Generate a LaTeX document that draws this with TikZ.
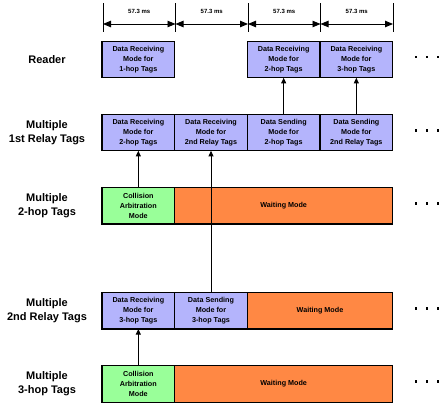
\documentclass[tikz,border=0pt]{standalone}
\usepackage{fontspec}
\setmainfont{Liberation Sans}
\usetikzlibrary{arrows.meta,calc}
\definecolor{lav}{RGB}{180,180,252}
\definecolor{grn}{RGB}{153,255,153}
\definecolor{org}{RGB}{255,136,68}
\begin{document}
\begin{tikzpicture}[x=1pt,y=-1pt,
  box/.style={draw, line width=1.2pt, minimum width=72.7pt, minimum height=36.7pt,
    inner sep=0pt, outer sep=0pt, align=center, anchor=center,
    font=\fontsize{7.2}{10}\selectfont\bfseries},
  lavbox/.style={box, fill=lav},
  grnbox/.style={box, fill=grn},
  orgbox/.style={box, fill=org},
  rowlab/.style={font=\fontsize{11}{14}\selectfont\bfseries, align=center, inner sep=0pt},
  dimlab/.style={font=\fontsize{6}{7}\selectfont\bfseries, inner sep=0pt},
  tick/.style={line width=0.9pt},
  dimarrow/.style={line width=0.9pt, {Triangle[length=8pt,width=6.5pt]}-{Triangle[length=8pt,width=6.5pt]}},
  uparrow/.style={line width=0.9pt, -{Triangle[length=5.5pt,width=5pt]}},
  dot/.style={fill=black, minimum size=2.6pt, inner sep=0pt, outer sep=0pt, rectangle}
]
\useasboundingbox (0,0) rectangle (442,407);

% dimension lines
\foreach \i/\x in {0/103,1/175.5,2/248,3/320.5,4/393}{
  \coordinate (tt\i) at (\x,3);
  \coordinate (tb\i) at (\x,32);
  \coordinate (ta\i) at (\x,24);
  \draw[tick] (tt\i) -- (tb\i);
}
\foreach \a/\b in {0/1,1/2,2/3,3/4}{
  \draw[dimarrow] (ta\a) -- (ta\b);
  \node[dimlab] (dl\a) at ($ (ta\a)!0.5!(ta\b) + (0,-12.5) $) {57.3 ms};
}

% row labels
\node[rowlab] (l0) at (47,60) {Reader};
\node[rowlab] (l1) at (47,133) {Multiple\\1st Relay Tags};
\node[rowlab] (l2) at (47,206) {Multiple\\2-hop Tags};
\node[rowlab] (l3) at (47,311) {Multiple\\2nd Relay Tags};
\node[rowlab] (l4) at (47,384) {Multiple\\3-hop Tags};

% Reader row
\node[lavbox] (r1) at (138.35,59.5) {Data Receiving\\Mode for\\1-hop Tags};
\node[lavbox] (r2) at (283.65,59.5) {Data Receiving\\Mode for\\2-hop Tags};
\node[lavbox] (r3) at (356.35,59.5) {Data Receiving\\Mode for\\3-hop Tags};

% 1st relay row
\node[lavbox] (a1) at (138.35,132.5) {Data Receiving\\Mode for\\2-hop Tags};
\node[lavbox] (a2) at (211,132.5) {Data Receiving\\Mode for\\2nd Relay Tags};
\node[lavbox] (a3) at (283.65,132.5) {Data Sending\\Mode for\\2-hop Tags};
\node[lavbox] (a4) at (356.35,132.5) {Data Sending\\Mode for\\2nd Relay Tags};

% 2-hop row
\node[grnbox] (h1) at (138.35,205.7) {Collision\\Arbitration\\Mode};
\node[orgbox, minimum width=218pt] (h2) at (283.7,205.7) {Waiting Mode};

% 2nd relay row
\node[lavbox] (b1) at (138.35,310.7) {Data Receiving\\Mode for\\3-hop Tags};
\node[lavbox] (b2) at (211,310.7) {Data Sending\\Mode for\\3-hop Tags};
\node[orgbox, minimum width=145.4pt] (b3) at (320,310.7) {Waiting Mode};

% 3-hop row
\node[grnbox] (k1) at (138.35,384) {Collision\\Arbitration\\Mode};
\node[orgbox, minimum width=218pt] (k2) at (283.7,384) {Waiting Mode};

% arrows
\draw[uparrow] (a3.north) -- (r2.south);
\draw[uparrow] (a4.north) -- (r3.south);
\draw[uparrow] (h1.north) -- (a1.south);
\draw[uparrow] (b2.north) -- (a2.south);
\draw[uparrow] (k1.north) -- (b1.south);

% dots
\foreach \y [count=\j] in {57,130.5,203.5,308.5,381.5}{
  \node[dot] (d\j a) at (416,\y) {};
  \node[dot] (d\j b) at (427,\y) {};
  \node[dot] (d\j c) at (438,\y) {};
}
\end{tikzpicture}
\end{document}
